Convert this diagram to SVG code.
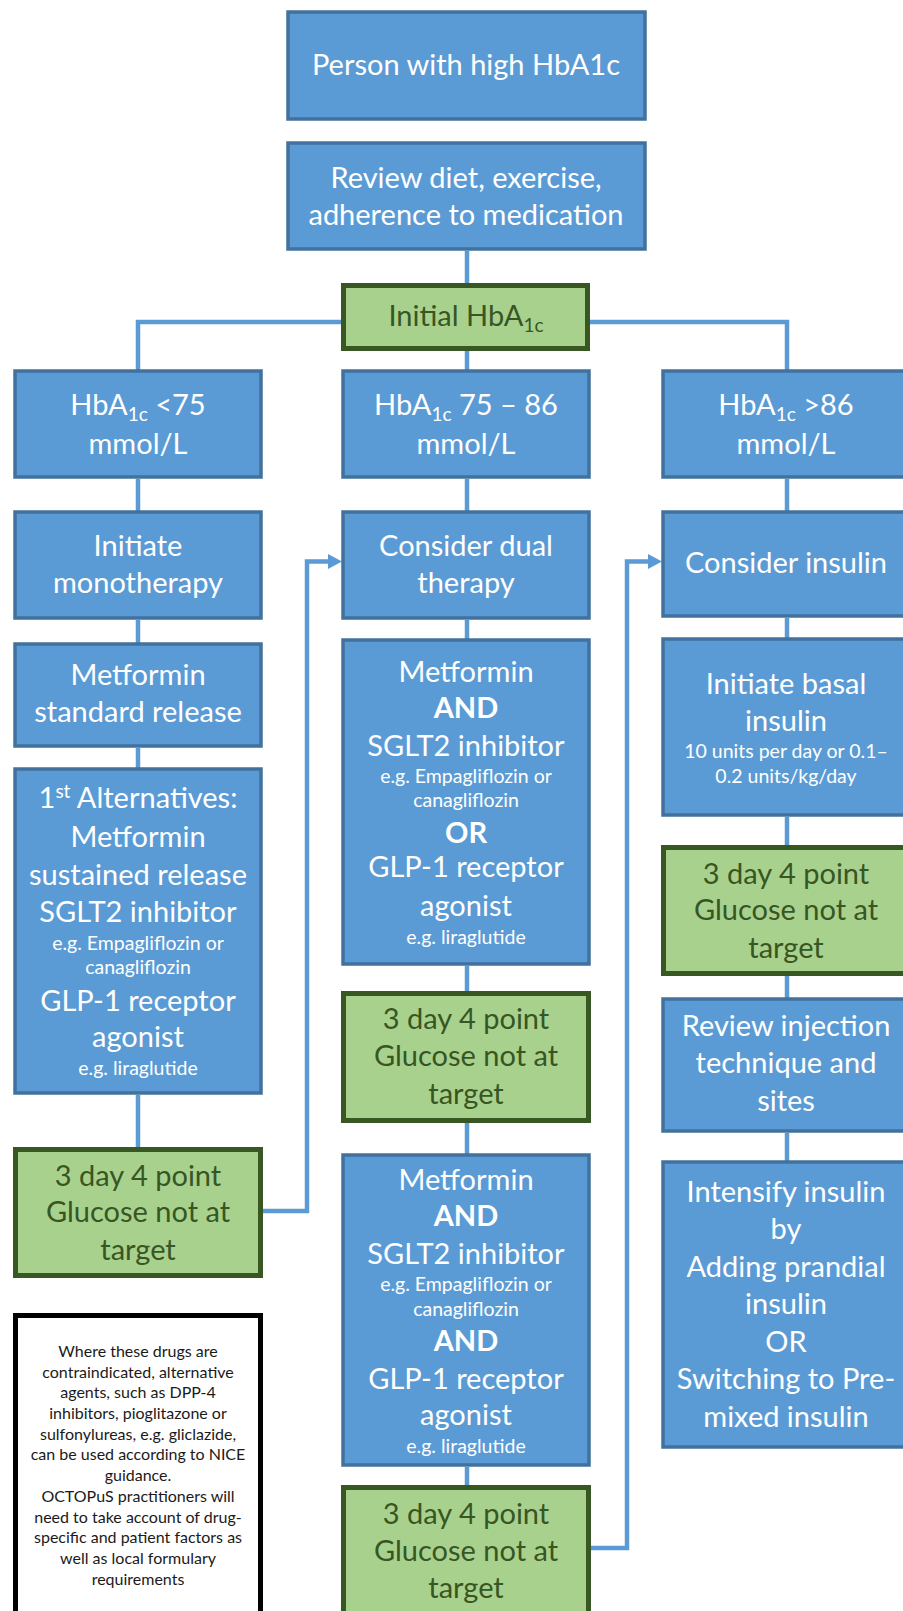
<svg xmlns="http://www.w3.org/2000/svg" width="903" height="1611" viewBox="0 0 903 1611">
<style>
.b{fill:#5B9BD5;stroke:#41719C;stroke-width:3.5}
.g{fill:#A9D18E;stroke:#385723;stroke-width:5}
.n{fill:#fff;stroke:#000;stroke-width:5}
.t{font-family:Lato,"Liberation Sans",sans-serif;font-size:29px;fill:#fff;text-anchor:middle}
.tg{fill:#375623}
.s{font-size:19.5px}
.k{font-size:16px;fill:#1a1a1a}
.bd{font-weight:bold}
.c{fill:none;stroke:#5B9BD5;stroke-width:4.5}
.ah{fill:#5B9BD5}
</style>
<rect width="903" height="1611" fill="#fff"/>
<g id="connectors">
<path class="c" d="M467 251 V284"/>
<path class="c" d="M341 322 H138 V370"/>
<path class="c" d="M590 322 H787 V370"/>
<path class="c" d="M467 351 V370"/>
<path class="c" d="M138 479 V511 M138 620 V643 M138 748 V768 M138 1095 V1148"/>
<path class="c" d="M467 479 V511 M467 620 V639 M467 966 V992 M467 1123 V1154 M467 1467 V1486"/>
<path class="c" d="M787 479 V511 M787 618 V638 M787 817 V846 M787 976 V998 M787 1133 V1161"/>
<path class="c" d="M263 1211 H307 V561.5 H331"/>
<polygon class="ah" points="328,554 342,561.5 328,569"/>
<path class="c" d="M591 1548 H627 V561.5 H651"/>
<polygon class="ah" points="648,554 662,561.5 648,569"/>
</g>
<g id="n-person"><rect class="b" x="288" y="12" width="357" height="107"/>
<text class="t" x="466" y="75">Person with high HbA1c</text></g>
<g id="n-review"><rect class="b" x="288" y="143" width="357" height="106"/>
<text class="t" x="466" y="188">Review diet, exercise,</text>
<text class="t" x="466" y="225">adherence to medication</text></g>
<g id="n-initial"><rect class="g" x="343.5" y="285.5" width="244" height="63"/>
<text class="t tg" x="466" y="326">Initial HbA<tspan font-size="19" dy="6">1c</tspan></text></g>

<g id="n-lt75"><rect class="b" x="15" y="371" width="246" height="106"/>
<text class="t" x="138" y="415">HbA<tspan font-size="19" dy="6">1c</tspan><tspan dy="-6"> &lt;75</tspan></text>
<text class="t" x="138" y="454">mmol/L</text></g>
<g id="n-7586"><rect class="b" x="343" y="371" width="246" height="106"/>
<text class="t" x="466" y="415">HbA<tspan font-size="19" dy="6">1c</tspan><tspan dy="-6"> 75 – 86</tspan></text>
<text class="t" x="466" y="454">mmol/L</text></g>
<g id="n-gt86"><rect class="b" x="663" y="371" width="246" height="106"/>
<text class="t" x="786" y="415">HbA<tspan font-size="19" dy="6">1c</tspan><tspan dy="-6"> &gt;86</tspan></text>
<text class="t" x="786" y="454">mmol/L</text></g>

<g id="n-mono"><rect class="b" x="15" y="512" width="246" height="106"/>
<text class="t" x="138" y="556">Initiate</text>
<text class="t" x="138" y="593">monotherapy</text></g>
<g id="n-dual"><rect class="b" x="343" y="512" width="246" height="106"/>
<text class="t" x="466" y="556">Consider dual</text>
<text class="t" x="466" y="593">therapy</text></g>
<g id="n-insulin"><rect class="b" x="663" y="512" width="246" height="104"/>
<text class="t" x="786" y="573">Consider insulin</text></g>

<g id="n-metstd"><rect class="b" x="15" y="644" width="246" height="102"/>
<text class="t" x="138" y="685">Metformin</text>
<text class="t" x="138" y="722">standard release</text></g>
<g id="n-dual1"><rect class="b" x="343" y="640" width="246" height="324"/>
<text class="t" x="466" y="682">Metformin</text>
<text class="t bd" x="466" y="718">AND</text>
<text class="t" x="466" y="756">SGLT2 inhibitor</text>
<text class="t s" x="466" y="783">e.g. Empagliflozin or</text>
<text class="t s" x="466" y="807">canagliflozin</text>
<text class="t bd" x="466" y="843">OR</text>
<text class="t" x="466" y="877">GLP-1 receptor</text>
<text class="t" x="466" y="916">agonist</text>
<text class="t s" x="466" y="944">e.g. liraglutide</text></g>
<g id="n-basal"><rect class="b" x="663" y="639" width="246" height="176"/>
<text class="t" x="786" y="694">Initiate basal</text>
<text class="t" x="786" y="731">insulin</text>
<text class="t s" x="786" y="758">10 units per day or 0.1–</text>
<text class="t s" x="786" y="783">0.2 units/kg/day</text></g>

<g id="n-alt"><rect class="b" x="15" y="769" width="246" height="324"/>
<text class="t" x="138" y="808">1<tspan font-size="19" dy="-10">st</tspan><tspan dy="10"> Alternatives:</tspan></text>
<text class="t" x="138" y="847">Metformin</text>
<text class="t" x="138" y="885">sustained release</text>
<text class="t" x="138" y="922">SGLT2 inhibitor</text>
<text class="t s" x="138" y="950">e.g. Empagliflozin or</text>
<text class="t s" x="138" y="974">canagliflozin</text>
<text class="t" x="138" y="1011">GLP-1 receptor</text>
<text class="t" x="138" y="1047">agonist</text>
<text class="t s" x="138" y="1075">e.g. liraglutide</text></g>

<g id="n-green-r"><rect class="g" x="663.5" y="847.5" width="250" height="126"/>
<text class="t tg" x="786" y="884">3 day 4 point</text>
<text class="t tg" x="786" y="920">Glucose not at</text>
<text class="t tg" x="786" y="958">target</text></g>
<g id="n-green-c1"><rect class="g" x="343.5" y="993.5" width="245" height="127"/>
<text class="t tg" x="466" y="1029">3 day 4 point</text>
<text class="t tg" x="466" y="1066">Glucose not at</text>
<text class="t tg" x="466" y="1104">target</text></g>
<g id="n-inject"><rect class="b" x="663" y="999" width="246" height="132"/>
<text class="t" x="786" y="1036">Review injection</text>
<text class="t" x="786" y="1073">technique and</text>
<text class="t" x="786" y="1111">sites</text></g>

<g id="n-green-l"><rect class="g" x="15.5" y="1149.5" width="245" height="126"/>
<text class="t tg" x="138" y="1186">3 day 4 point</text>
<text class="t tg" x="138" y="1222">Glucose not at</text>
<text class="t tg" x="138" y="1260">target</text></g>
<g id="n-dual2"><rect class="b" x="343" y="1155" width="246" height="310"/>
<text class="t" x="466" y="1190">Metformin</text>
<text class="t bd" x="466" y="1226">AND</text>
<text class="t" x="466" y="1264">SGLT2 inhibitor</text>
<text class="t s" x="466" y="1291">e.g. Empagliflozin or</text>
<text class="t s" x="466" y="1316">canagliflozin</text>
<text class="t bd" x="466" y="1351">AND</text>
<text class="t" x="466" y="1389">GLP-1 receptor</text>
<text class="t" x="466" y="1425">agonist</text>
<text class="t s" x="466" y="1453">e.g. liraglutide</text></g>
<g id="n-intensify"><rect class="b" x="663" y="1162" width="246" height="285"/>
<text class="t" x="786" y="1202">Intensify insulin</text>
<text class="t" x="786" y="1239">by</text>
<text class="t" x="786" y="1277">Adding prandial</text>
<text class="t" x="786" y="1314">insulin</text>
<text class="t" x="786" y="1352">OR</text>
<text class="t" x="786" y="1389">Switching to Pre-</text>
<text class="t" x="786" y="1427">mixed insulin</text></g>

<g id="n-note"><rect class="n" x="15.5" y="1315.5" width="245" height="310"/>
<text class="t k" x="138" y="1357">Where these drugs are</text>
<text class="t k" x="138" y="1378">contraindicated, alternative</text>
<text class="t k" x="138" y="1398">agents, such as DPP-4</text>
<text class="t k" x="138" y="1419">inhibitors, pioglitazone or</text>
<text class="t k" x="138" y="1440">sulfonylureas, e.g. gliclazide,</text>
<text class="t k" x="138" y="1460">can be used according to NICE</text>
<text class="t k" x="138" y="1481">guidance.</text>
<text class="t k" x="138" y="1502">OCTOPuS practitioners will</text>
<text class="t k" x="138" y="1523">need to take account of drug-</text>
<text class="t k" x="138" y="1543">specific and patient factors as</text>
<text class="t k" x="138" y="1564">well as local formulary</text>
<text class="t k" x="138" y="1585">requirements</text></g>
<g id="n-green-c2"><rect class="g" x="343.5" y="1487.5" width="245" height="140"/>
<text class="t tg" x="466" y="1524">3 day 4 point</text>
<text class="t tg" x="466" y="1561">Glucose not at</text>
<text class="t tg" x="466" y="1598">target</text></g>
</svg>
